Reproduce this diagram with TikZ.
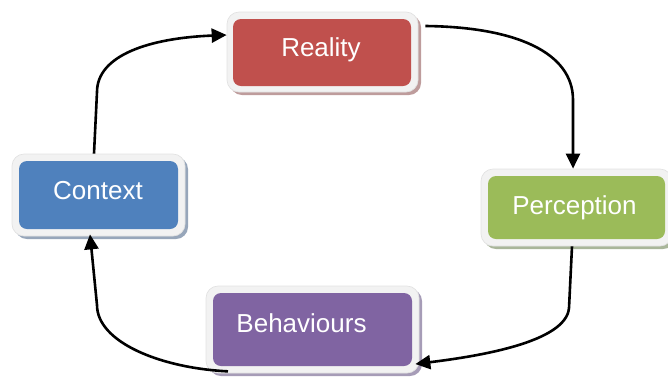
\documentclass[tikz,border=0pt]{standalone}
\usepackage{fontspec}
\setmainfont{Liberation Sans}
\usetikzlibrary{arrows.meta,shadows}

\definecolor{framefill}{HTML}{F2F2F2}
\definecolor{frameedge}{HTML}{E2E2E2}
\definecolor{realfill}{HTML}{C0504D}
\definecolor{realshade}{HTML}{BE9C9C}
\definecolor{percfill}{HTML}{9BBB59}
\definecolor{percshade}{HTML}{A9B69A}
\definecolor{behavfill}{HTML}{8064A2}
\definecolor{behavshade}{HTML}{A69CB7}
\definecolor{ctxfill}{HTML}{4F81BD}
\definecolor{ctxshade}{HTML}{97A6BA}

\begin{document}
\begin{tikzpicture}[x=1pt,y=-1pt,
  frame/.style={rectangle,rounded corners=12pt,fill=framefill,draw=frameedge,
    line width=0.7pt,inner sep=0pt,
    drop shadow={shadow xshift=3pt,shadow yshift=-3pt,fill=#1,opacity=1}},
  core/.style={rectangle,rounded corners=8pt,fill=#1,inner sep=0pt},
  caption/.style={text=white,font=\fontsize{26}{30}\selectfont,inner sep=0pt,anchor=base},
  flow/.style={line width=2.6pt,-{Triangle[length=15pt,width=14pt]}}]
\useasboundingbox (0,0) rectangle (668,376);

% Reality
\node[frame=realshade,minimum width=191pt,minimum height=80pt] (real) at (322.5,52) {};
\node[core=realfill,minimum width=178pt,minimum height=67pt] (realcore) at (322,52.5) {};
\node[caption] (realtxt) at (321,56) {Reality};

% Perception
\node[frame=percshade,minimum width=191pt,minimum height=77pt] (perc) at (576.5,207.5) {};
\node[core=percfill,minimum width=177pt,minimum height=63pt] (perccore) at (576.5,207.5) {};
\node[caption] (perctxt) at (574.5,214) {Perception};

% Behaviours
\node[frame=behavshade,minimum width=213pt,minimum height=87pt] (behav) at (312.5,329.5) {};
\node[core=behavfill,minimum width=199pt,minimum height=73pt] (behavcore) at (312.5,329.5) {};
\node[caption] (behavtxt) at (301.5,332) {Behaviours};

% Context
\node[frame=ctxshade,minimum width=173pt,minimum height=82pt] (ctx) at (98.5,195) {};
\node[core=ctxfill,minimum width=159pt,minimum height=68pt] (ctxcore) at (98.5,195) {};
\node[caption] (ctxtxt) at (98,199) {Context};

% Cycle connectors
\draw[flow] ([xshift=-4.5pt]ctx.north) -- (97,92)
  .. controls (97,55) and (150,38) .. ([yshift=17pt]real.west);
\draw[flow] ([xshift=7pt,yshift=26pt]real.east)
  .. controls (515,27) and (573,52) .. (573,100) -- ([xshift=-3.5pt]perc.north);
\draw[flow] ([xshift=-4.5pt]perc.south) -- (569,308)
  .. controls (566,342) and (480,356) .. ([xshift=-4pt,yshift=-34.5pt]behav.east);
\draw[flow] ([xshift=-84.5pt,yshift=2pt]behav.south)
  .. controls (160,368) and (97,342) .. (97,305) -- ([xshift=-8.5pt,yshift=2pt]ctx.south);
\end{tikzpicture}
\end{document}
